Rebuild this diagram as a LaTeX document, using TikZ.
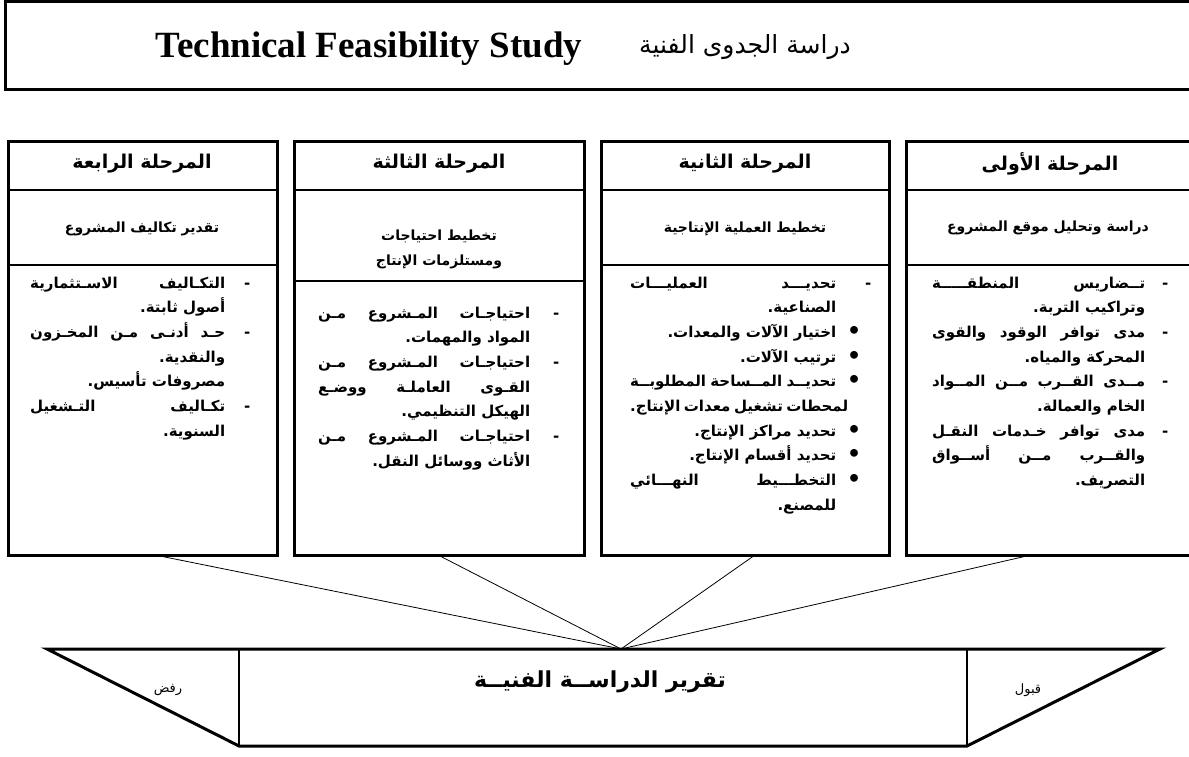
\documentclass[tikz,border=0pt]{standalone}
\usepackage{fontspec}
\setmainfont{Liberation Serif}
\newfontfamily\arf[Script=Arabic]{DejaVu Sans}
\TeXXeTstate=1
\newlength\bw
\newlength\mk
\newcommand\AR[1]{{\arf\bfseries\beginR #1\endR}}
\newcommand\ARr[1]{{\arf\beginR #1\endR}}
\newcommand\JL[2]{\hbox to\dimexpr\bw+\mk\relax{\hbox to\bw{\AR{#2}}\hbox to\mk{\hss\AR{#1}\hss}}}
\newcommand\RL[2]{\hbox to\dimexpr\bw+\mk\relax{\hfill\AR{#2}\hbox to\mk{\hss\AR{#1}\hss}}}
\newcommand\bul{\raisebox{-1pt}{\fontsize{22}{22}\selectfont •}}
\newcommand\bodysetup{\fontsize{15}{25}\selectfont\baselineskip=24.7pt\lineskiplimit=-1000pt}
\tikzset{
  box/.style={draw, line width=3pt, inner sep=0pt, outer sep=0pt},
  sep/.style={line width=1.2pt},
  conn/.style={line width=0.8pt},
  hdr/.style={inner sep=0pt, font=\fontsize{19}{22}\selectfont},
  sub/.style={inner sep=0pt, align=center, font=\fontsize{14}{25}\selectfont},
  body/.style={inner sep=0pt, anchor=base west},
}
\begin{document}
\begin{tikzpicture}[x=1pt,y=-1pt]
\useasboundingbox (0,0) rectangle (1189,757);
\fill[white] (0,0) rectangle (1189,757);
\clip (0,0) rectangle (1189,757);
% title
\node[box, anchor=north west, minimum width=1200pt, minimum height=88pt] (title) at (5,2) {};
\node[inner sep=0pt, font=\bfseries\fontsize{37}{42}\selectfont] (ten) at (369,49) {Technical Feasibility Study};
\node[inner sep=0pt, font=\fontsize{25}{30}\selectfont] (tar) at (745,47) {\ARr{دراسة الجدوى الفنية}};
% columns
\node[box, anchor=north west, minimum width=269pt, minimum height=413pt] (c4) at (8,142) {};
\node[box, anchor=north west, minimum width=290pt, minimum height=413pt] (c3) at (294,142) {};
\node[box, anchor=north west, minimum width=288pt, minimum height=413pt] (c2) at (601,142) {};
\node[box, anchor=north west, minimum width=300pt, minimum height=413pt] (c1) at (906,142) {};
\foreach \c in {c1,c2,c3,c4}{
  \draw[sep] (\c.west |- 0,190) -- (\c.east |- 0,190);
}
\draw[sep] (c1.west |- 0,265) -- (c1.east |- 0,265);
\draw[sep] (c2.west |- 0,265) -- (c2.east |- 0,265);
\draw[sep] (c3.west |- 0,281) -- (c3.east |- 0,281);
\draw[sep] (c4.west |- 0,265) -- (c4.east |- 0,265);
% headers
\node[hdr] (h1) at (1050,164) {\AR{المرحلة الأولى}};
\node[hdr] (h2) at (745,164) {\AR{المرحلة الثانية}};
\node[hdr] (h3) at (439,164) {\AR{المرحلة الثالثة}};
\node[hdr] (h4) at (142,164) {\AR{المرحلة الرابعة}};
% subtitles
\node[sub] (s1) at (1048,228) {\AR{دراسة وتحليل موقع المشروع}};
\node[sub] (s2) at (745,229) {\AR{تخطيط العملية الإنتاجية}};
\node[sub] (s3) at (439,249) {\AR{تخطيط احتياجات}\\\AR{ومستلزمات الإنتاج}};
\node[sub] (s4) at (142,229) {\AR{تقدير تكاليف المشروع}};
% bodies
\node[body] (b1) at (932,288) {\bodysetup\setlength\bw{213pt}\setlength\mk{40pt}\vtop{%
\JL{-}{تــضاريس المنطقـــــة}
\RL{}{وتراكيب التربة.}
\JL{-}{مدى توافر الوقود والقوى}
\RL{}{المحركة والمياه.}
\JL{-}{مــدى القــرب مــن المــواد}
\RL{}{الخام والعمالة.}
\JL{-}{مدى توافر خـدمات النقـل}
\JL{}{والقــرب مــن أســواق}
\RL{}{التصريف.}}};
\node[body] (b2) at (630,288) {\bodysetup\setlength\bw{206pt}\setlength\mk{36pt}\vtop{%
\JL{-\hskip28pt}{تحديـــد العمليـــات}
\RL{}{الصناعية.}
\RL{\bul}{اختيار الآلات والمعدات.}
\RL{\bul}{ترتيب الآلات.}
\JL{\bul}{تحديــد المــساحة المطلوبــة}
\JL{}{لمحطات تشغيل معدات الإنتاج.}
\RL{\bul}{تحديد مراكز الإنتاج.}
\RL{\bul}{تحديد أقسام الإنتاج.}
\JL{\bul}{التخطـــيط النهـــائي}
\RL{}{للمصنع.}}};
\node[body] (b3) at (318,318) {\bodysetup\setlength\bw{212pt}\setlength\mk{52pt}\vtop{%
\JL{-}{احتياجـات المـشروع مـن}
\RL{}{المواد والمهمات.}
\JL{-}{احتياجـات المـشروع مـن}
\JL{}{القـوى العاملـة ووضـع}
\RL{}{الهيكل التنظيمي.}
\JL{-}{احتياجـات المـشروع مـن}
\RL{}{الأثاث ووسائل النقل.}}};
\node[body] (b4) at (30,288) {\bodysetup\setlength\bw{195pt}\setlength\mk{44pt}\vtop{%
\JL{-}{التكـاليف الاسـتثمارية}
\RL{}{أصول ثابتة.}
\JL{-}{حـد أدنـى مـن المخـزون}
\RL{}{والنقدية.}
\RL{}{مصروفات تأسيس.}
\JL{-}{تكـاليف التـشغيل}
\RL{}{السنوية.}}};
% report trapezoid
\coordinate (tl) at (47,649);
\coordinate (tr) at (1160,649);
\coordinate (br) at (967,746);
\coordinate (bl) at (239,746);
\coordinate (il) at (239,649);
\coordinate (ir) at (967,649);
\coordinate (hub) at (621,649);
\draw[line width=3pt, line join=miter] (tl) -- (tr) -- (br) -- (bl) -- cycle;
\draw[line width=2pt] (il) -- (bl);
\draw[line width=2pt] (ir) -- (br);
\node[inner sep=0pt, font=\fontsize{22}{26}\selectfont] (rep) at (600,682) {\AR{تقرير الدراســة الفنيــة}};
\node[inner sep=0pt, font=\fontsize{13}{16}\selectfont] (rej) at (168,690) {\ARr{رفض}};
\node[inner sep=0pt, font=\fontsize{13}{16}\selectfont] (acc) at (1028,690) {\ARr{قبول}};
% connectors
\draw[conn] (c4.south -| 155,0) -- (hub);
\draw[conn] (c3.south -| 438,0) -- (hub);
\draw[conn] (c2.south -| 755,0) -- (hub);
\draw[conn] (c1.south -| 1031,0) -- (hub);
\end{tikzpicture}
\end{document}
